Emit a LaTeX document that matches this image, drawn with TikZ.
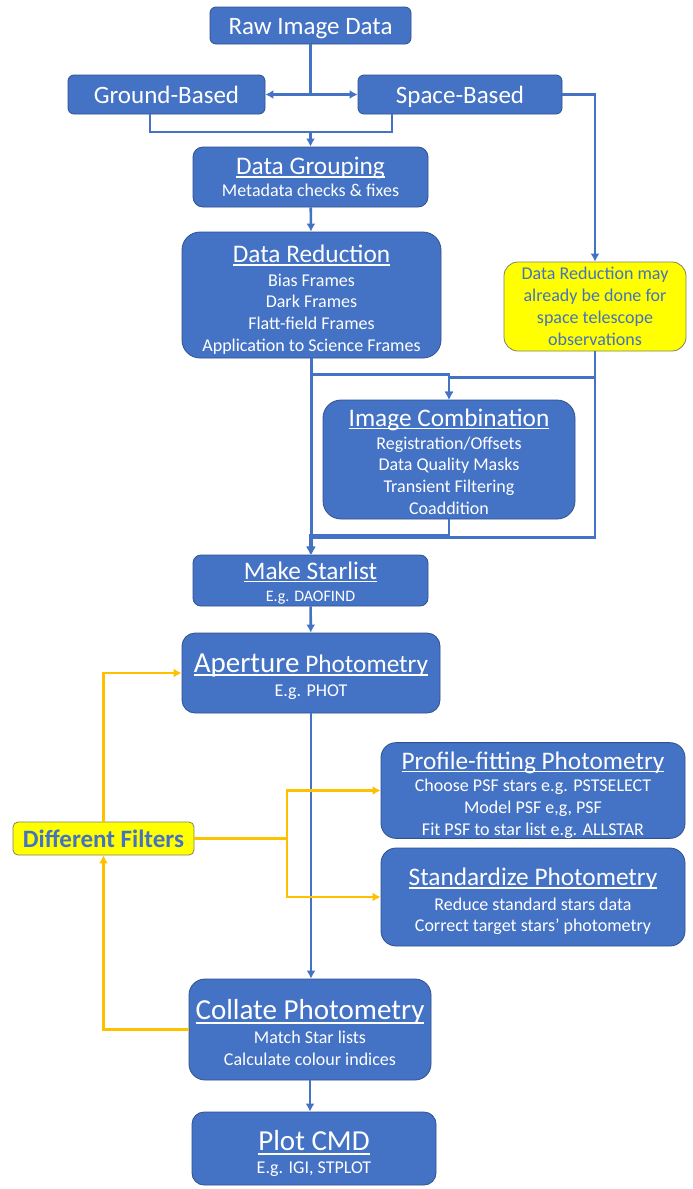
\documentclass[tikz,border=0pt]{standalone}
\usepackage{fontspec}
\setmainfont{Carlito}
\usepackage{xcolor}
\definecolor{officeblue}{HTML}{4472C4}
\definecolor{officeedge}{HTML}{2F528F}
\definecolor{noteyellow}{HTML}{FFFF00}
\definecolor{noteedge}{HTML}{808066}
\definecolor{filterorange}{HTML}{FFC000}
\usepackage{tikz}
\usetikzlibrary{arrows.meta, positioning}
\tikzstyle{stage}=[rectangle, draw=officeedge, fill=officeblue, text=white, align=center, inner sep=0pt, line width=0.8pt, font=\fontsize{18}{21.7}\selectfont]
\tikzstyle{source}=[stage, text height=19pt, text depth=2pt, font=\fontsize{25}{28}\selectfont]
\tikzstyle{remark}=[rectangle, draw=noteedge, fill=noteyellow, text=officeblue, align=center, inner sep=0pt, line width=0.8pt, font=\fontsize{18}{22}\selectfont]
\tikzstyle{link}=[line width=2.6pt, draw=officeblue]
\tikzstyle{arrow}=[link, -{Latex[length=8pt,width=9pt]}]
\tikzstyle{filterlink}=[line width=2.6pt, draw=filterorange]
\tikzstyle{filterarrow}=[filterlink, -{Latex[length=8pt,width=9pt]}]
\newcommand{\underlined}[1]{\setbox0\hbox{#1}\rlap{\rule[-0.13em]{\wd0}{0.07em}}\box0}
\newcommand{\stagetitle}[2][1.05em]{{\fontsize{25.3}{25.3}\selectfont\rule{0pt}{#1}\underlined{#2}}}
\newcommand{\bigtitle}[2][1.05em]{{\fontsize{29}{29}\selectfont\rule{0pt}{#1}\underlined{#2}}}

\begin{document}
\begin{tikzpicture}[x=1pt, y=-1pt]
	\path[fill=white] (0,0) rectangle (693,1189);
	\useasboundingbox (0,0) rectangle (693,1189);

		\node(n1)[source, minimum width=201pt, minimum height=37pt, rounded corners=6pt] at (310.5,25.5) {Raw Image Data};
		
		\node(n1-1)[source, minimum width=197pt, minimum height=39pt, rounded corners=6pt] at (166.5,94.5) {Ground-Based};
		
		\node(n1-2)[source, minimum width=204pt, minimum height=39pt, rounded corners=6pt] at (460,94.5) {Space-Based};
		
		\node(n2)[stage, minimum width=235pt, minimum height=60pt, rounded corners=10pt] at (310.5,177) {\stagetitle[0pt]{Data Grouping}\\[1pt]
		Metadata checks \& fixes};
		
		\node(n3)[stage, minimum width=259pt, minimum height=126pt, rounded corners=18pt] at (311.5,295) {\stagetitle{Data Reduction}\\[2pt]
		Bias Frames\\Dark Frames\\Flatt-field Frames\\Application to Science Frames};
		
		\node(n3-1)[remark, minimum width=182pt, minimum height=89pt, rounded corners=14pt] at (595,306.5) {Data Reduction may\\already be done for\\space telescope\\observations};
		
		\node(n4)[stage, minimum width=252pt, minimum height=119pt, rounded corners=18pt] at (449,459.5) {\stagetitle[0.85em]{Image Combination}\\[1.5pt]
		Registration/Offsets\\Data Quality Masks\\Transient Filtering\\Coaddition};
		
		\node(n5)[stage, minimum width=235pt, minimum height=51pt, rounded corners=8pt] at (310.5,580.5) {\stagetitle[0.9em]{Make Starlist}\\[1pt]
		{\fontsize{16}{18}\selectfont E.g. DAOFIND}};
		
		\node(n6)[stage, minimum width=258pt, minimum height=80pt, rounded corners=13pt] at (311,673) {\stagetitle{{\fontsize{29}{29}\selectfont Aperture} Photometry}\\[2pt]
		E.g. PHOT};
		
		\node(n6-1)[stage, minimum width=304pt, minimum height=95pt, rounded corners=15pt] at (533,790.5) {\stagetitle{Profile-fitting Photometry}\\[1pt]
		Choose PSF stars e.g. PSTSELECT\\Model PSF e,g, PSF\\Fit PSF to star list e.g. ALLSTAR};
		
		\node(n6-2)[stage, minimum width=304pt, minimum height=98pt, rounded corners=15pt] at (533,897) {\stagetitle{Standardize Photometry}\\[3pt]
		Reduce standard stars data\\Correct target stars’ photometry};
		
		\node(f1)[remark, minimum width=181pt, minimum height=33pt, rounded corners=5pt, font=\fontsize{25}{26}\selectfont\bfseries] at (103.5,838.5) {Different Filters};
		
		\node(n7)[stage, minimum width=242pt, minimum height=101pt, rounded corners=16pt] at (310,1029.5) {\bigtitle[0.9em]{Collate Photometry}\\[2pt]
		Match Star lists\\Calculate colour indices};
		
		\node(n8)[stage, minimum width=244pt, minimum height=73pt, rounded corners=12pt] at (314,1148.5) {\bigtitle{Plot CMD}\\[1pt]
		E.g. IGI, STPLOT};
		
		\coordinate(g1) at (n1.south |- n1-1.east);
		\coordinate(g2) at (310.5,132);
		\coordinate(g3) at (287,838.5);
		
		\draw[link](n1.south)--(g1);
		\draw[arrow](g1)--(n1-1.east);
		\draw[arrow](g1)--(n1-2.west);
		\draw[link]([xshift=-16.5pt]n1-1.south)|-(g2);
		\draw[link]([xshift=-68pt]n1-2.south)|-(g2);
		\draw[arrow](g2)--(n2.north);
		\draw[arrow](n1-2.east)-|(n3-1.north);
		\draw[arrow](n2)--(n3);
		\draw[arrow](n3.south)--(n3.south |- n5.north);
		\draw[arrow](n3.south)--++(0,16)-|(n4.north);
		\draw[arrow](n3-1.south)--++(0,26)-|(n4.north);
		\draw[arrow](n4.south)--++(0,16)-|(n5.north);
		\draw[arrow](n3-1.south)--++(0,186)-|(n5.north);
		\draw[arrow](n5)--(n6);
		\draw[arrow](n6.south)--(n6.south |- n7.north);
		\draw[arrow](n7.south)--(n7.south |- n8.north);
		
		\draw[filterarrow](f1.north)|-(n6.west);
		\draw[filterlink](f1.east)--(g3);
		\draw[filterarrow](g3)|-(n6-1.west);
		\draw[filterarrow](g3)|-(n6-2.west);
		\draw[filterarrow](n7.west)-|(f1.south);
		
\end{tikzpicture}
\end{document}
